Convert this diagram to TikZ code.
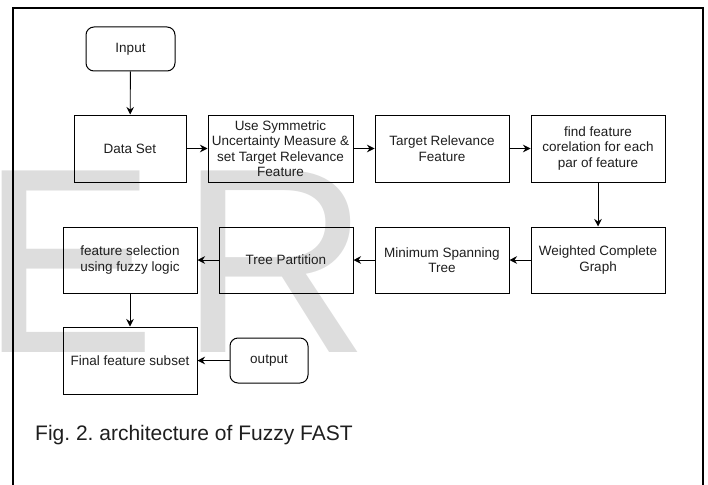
\documentclass[tikz,border=0pt]{standalone}
\usepackage{fontspec}
\setmainfont{Liberation Sans}
\usetikzlibrary{arrows.meta}
\frenchspacing

\definecolor{markgray}{RGB}{221,221,221}
\definecolor{inkgray}{RGB}{30,30,30}

\tikzset{
	box/.style={draw, line width=1pt, minimum width=134pt, minimum height=67pt,
		align=center, inner sep=2pt, text=inkgray,
		font=\fontsize{13.5}{15.5}\selectfont},
	rbox/.style={box, rounded corners=8pt},
	flow/.style={line width=0.9pt, -{Stealth[length=7.5pt,width=7.5pt,inset=2.5pt]}},
	bigletter/.style={anchor=base west, inner sep=0pt, text=markgray,
		font=\fontsize{264}{264}\selectfont}
}

\begin{document}
\begin{tikzpicture}[x=1pt,y=-1pt]
	\useasboundingbox (0,0) rectangle (708,484);

	% letters in the background
	\node[bigletter] (letterE) at (-20,352) {E};
	\node[bigletter] (letterR) at (179,352) {R};

	% frame
	\draw[line width=2pt] (13,500) -- (13,8) -- (703,8) -- (703,500);

	\node[rbox, minimum width=89pt, minimum height=44pt] (input) at (130.5,49) {Input};
	\node[box, minimum width=112pt] (data) at (130,148.5) {Data Set};
	\node[box, minimum width=145pt] (sym) at (280.5,148.5) {Use Symmetric\\Uncertainty Measure \&\\set Target Relevance\\Feature};
	\node[box] (target) at (442,148.5) {Target Relevance\\Feature};
	\node[box] (corr) at (598,148.5) {find feature\\corelation for each\\par of feature};

	\node[box, minimum height=66pt] (graph) at (598,260) {Weighted Complete\\Graph};
	\node[box, minimum height=66pt] (mst) at (442,260) {Minimum Spanning\\Tree};
	\node[box, minimum height=66pt] (part) at (286,260) {Tree Partition};
	\node[box, minimum height=66pt] (fsel) at (130,260) {feature selection\\using fuzzy logic};

	\node[box] (final) at (130,360.5) {Final feature subset};
	\node[rbox, minimum width=78pt, minimum height=45pt] (output) at (269,360.5) {output};

	\draw[flow] (input) -- (data);
	\draw[flow] (data) -- (sym);
	\draw[flow] (sym) -- (target);
	\draw[flow] (target) -- (corr);
	\draw[flow] (corr) -- (graph);
	\draw[flow] (graph) -- (mst);
	\draw[flow] (mst) -- (part);
	\draw[flow] (part) -- (fsel);
	\draw[flow] (fsel) -- (final);
	\draw[flow] (output) -- (final);

	\node[anchor=base west, inner sep=0pt, text=inkgray, font=\fontsize{21}{25}\selectfont] (caption) at (35,440) {Fig. 2. architecture of Fuzzy FAST};
\end{tikzpicture}
\end{document}
